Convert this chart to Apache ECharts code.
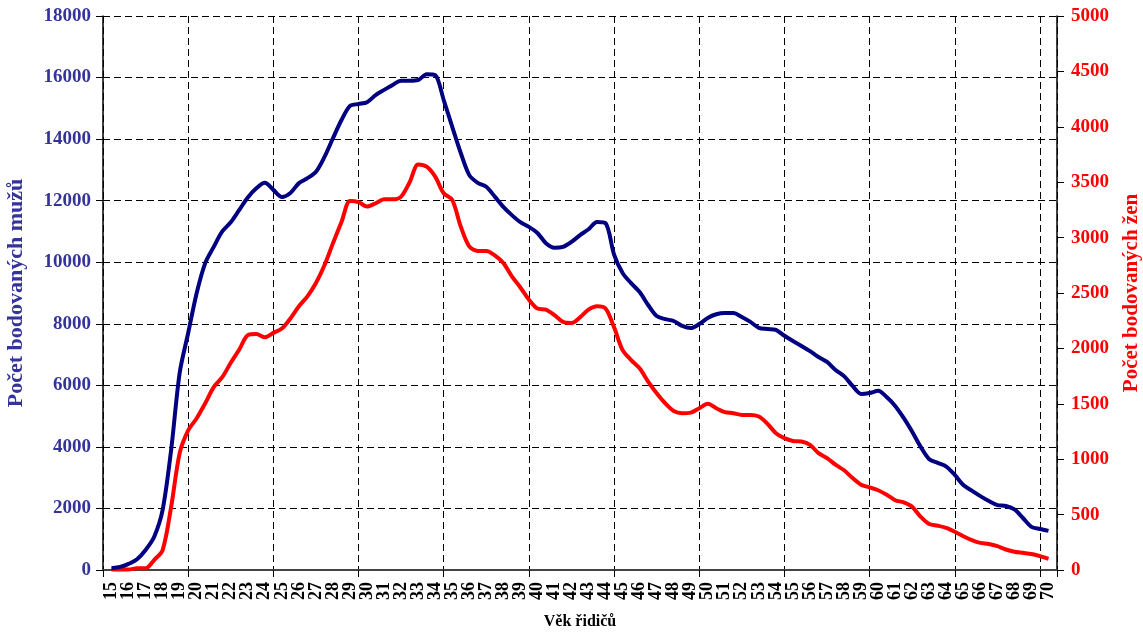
<!DOCTYPE html>
<html>
<head>
<meta charset="utf-8">
<script src="https://cdn.jsdelivr.net/npm/echarts@6/dist/echarts.min.js"></script>
<style>
  html, body { margin: 0; padding: 0; background: #fff; }
  #container { width: 1143px; height: 634px; }
</style>
</head>
<body>
<div id="container"></div>
<script>
var dom     = document.getElementById("container");
var myChart = echarts.init(dom);

// věk - popisky kategorií
var ageLabels = ['15','16','17','18','19','20','21','22','23','24','25','26','27','28',
    '29','30','31','32','33','34','35','36','37','38','39','40','41','42','43','44',
    '45','46','47','48','49','50','51','52','53','54','55','56','57','58','59','60',
    '61','62','63','64','65','66','67','68','69','70'];

// věk odečtených bodů (po půl roce)
var ages = [
    15, 15.5, 16, 16.5, 17, 17.5, 18, 18.5, 19, 19.5,
    20, 20.5, 21, 21.5, 22, 22.5, 23, 23.5, 24, 24.5,
    25, 25.5, 26, 26.5, 27, 27.5, 28, 28.5, 29, 29.5,
    30, 30.5, 31, 31.5, 32, 32.5, 33, 33.5, 34, 34.5,
    35, 35.5, 36, 36.5, 37, 37.5, 38, 38.5, 39, 39.5,
    40, 40.5, 41, 41.5, 42, 42.5, 43, 43.5, 44, 44.5,
    45, 45.5, 46, 46.5, 47, 47.5, 48, 48.5, 49, 49.5,
    50, 50.5, 51, 51.5, 52, 52.5, 53, 53.5, 54, 54.5,
    55, 55.5, 56, 56.5, 57, 57.5, 58, 58.5, 59, 59.5,
    60, 60.5, 61, 61.5, 62, 62.5, 63, 63.5, 64, 64.5,
    65, 65.5, 66, 66.5, 67, 67.5, 68, 68.5, 69, 69.5,
    70
];

// muži (levá osa)
var men = [
    60, 100, 200, 350, 650, 1070, 1950, 3900, 6400, 7700,
    9000, 9970, 10500, 11000, 11300, 11700, 12100, 12400, 12580, 12350,
    12120, 12250, 12570, 12730, 12940, 13420, 14030, 14620, 15080, 15140,
    15200, 15430, 15600, 15760, 15900, 15900, 15920, 16110, 16080, 15270,
    14400, 13550, 12830, 12580, 12450, 12130, 11800, 11530, 11300, 11150,
    10950, 10620, 10470, 10500, 10660, 10880, 11070, 11310, 11270, 10250,
    9650, 9320, 9030, 8610, 8250, 8150, 8090, 7930, 7860, 7990,
    8190, 8310, 8350, 8350, 8220, 8060, 7870, 7830, 7800, 7610,
    7440, 7280, 7110, 6920, 6760, 6500, 6300, 5980, 5720, 5750,
    5820, 5620, 5330, 4940, 4490, 4000, 3600, 3480, 3360, 3090,
    2760, 2580, 2400, 2240, 2110, 2080, 1970, 1690, 1400, 1330,
    1270
];

// ženy (pravá osa)
var women = [
    5, 5, 5, 15, 15, 90, 180, 570, 1055, 1260,
    1370, 1505, 1650, 1740, 1870, 1990, 2120, 2130, 2100, 2140,
    2180, 2270, 2380, 2470, 2590, 2750, 2950, 3140, 3330, 3320,
    3280, 3310, 3345, 3345, 3370, 3500, 3660, 3640, 3550, 3400,
    3340, 3100, 2920, 2880, 2880, 2840, 2770, 2650, 2550, 2440,
    2360, 2350, 2300, 2240, 2230, 2280, 2350, 2380, 2360, 2190,
    1985, 1895, 1820, 1700, 1595, 1505, 1435, 1415, 1420, 1460,
    1500, 1460, 1425, 1415, 1400, 1400, 1385, 1320, 1235, 1190,
    1165, 1160, 1130, 1055, 1010, 950, 900, 830, 770, 745,
    720, 680, 630, 610, 570, 480, 415, 400, 380, 345,
    305, 270, 245, 235, 215, 185, 165, 155, 145, 125,
    100
];

function pairs(xs, ys) {
    var out = [];
    for (var i = 0; i < xs.length; i++) {
        out.push([xs[i], ys[i]]);
    }
    return out;
}

// bez oddělovače tisíců
function plain(v) {
    return String(v);
}

var FONT = '"Liberation Serif", "Times New Roman", serif';
var gridDash = { color: '#000', width: 1, type: [7, 4] };

var option = {
    animation: false,
    backgroundColor: '#fff',
    grid: { left: 103, right: 86, top: 16, bottom: 64, containLabel: false, outerBoundsMode: 'none' },
    xAxis: [
        {
            type: 'category',
            data: ageLabels,
            boundaryGap: true,
            name: 'Věk řidičů',
            nameLocation: 'middle',
            nameGap: 44,
            nameTextStyle: { fontFamily: FONT, fontWeight: 'bold', fontSize: 16, color: '#000' },
            axisLine: { lineStyle: { color: '#444', width: 2 } },
            axisTick: { show: true, interval: 4, length: 7, lineStyle: { color: '#000', width: 1 } },
            axisLabel: {
                interval: 0, rotate: 90, margin: 12,
                fontFamily: FONT, fontWeight: 'bold', fontSize: 18, color: '#000'
            },
            splitLine: { show: true, interval: 4, lineStyle: gridDash }
        },
        {
            type: 'value',
            min: 14.5,
            max: 70.5,
            show: false
        }
    ],
    yAxis: [
        {
            type: 'value',
            min: 0,
            max: 18000,
            interval: 2000,
            name: 'Počet bodovaných mužů',
            nameLocation: 'middle',
            nameRotate: 90,
            nameGap: 76,
            nameTextStyle: { fontFamily: FONT, fontWeight: 'bold', fontSize: 22, color: '#333399' },
            axisLine: { show: true, lineStyle: { color: '#000', width: 1.5 } },
            axisTick: { show: true, length: 7, lineStyle: { color: '#000' } },
            axisLabel: { margin: 12, formatter: plain, fontFamily: FONT, fontWeight: 'bold', fontSize: 19, color: '#333399' },
            splitLine: { show: true, lineStyle: gridDash }
        },
        {
            type: 'value',
            min: 0,
            max: 5000,
            interval: 500,
            position: 'right',
            name: 'Počet bodovaných žen',
            nameLocation: 'middle',
            nameRotate: 90,
            nameGap: 64,
            nameTextStyle: { fontFamily: FONT, fontWeight: 'bold', fontSize: 21, color: '#ff0000' },
            axisLine: { show: true, lineStyle: { color: '#000', width: 1.5 } },
            axisTick: { show: true, length: 7, lineStyle: { color: '#000' } },
            axisLabel: { margin: 14, formatter: plain, fontFamily: FONT, fontWeight: 'bold', fontSize: 19, color: '#ff0000' },
            splitLine: { show: false }
        }
    ],
    series: [
        {
            name: 'muži',
            type: 'line',
            xAxisIndex: 1,
            yAxisIndex: 0,
            data: pairs(ages, men),
            smooth: 0.3,
            showSymbol: false,
            lineStyle: { color: '#000080', width: 4 },
            z: 3
        },
        {
            name: 'ženy',
            type: 'line',
            xAxisIndex: 1,
            yAxisIndex: 1,
            data: pairs(ages, women),
            smooth: 0.3,
            showSymbol: false,
            lineStyle: { color: '#ff0000', width: 4 },
            z: 2
        }
    ]
};

myChart.setOption(option);
</script>
</body>
</html>
